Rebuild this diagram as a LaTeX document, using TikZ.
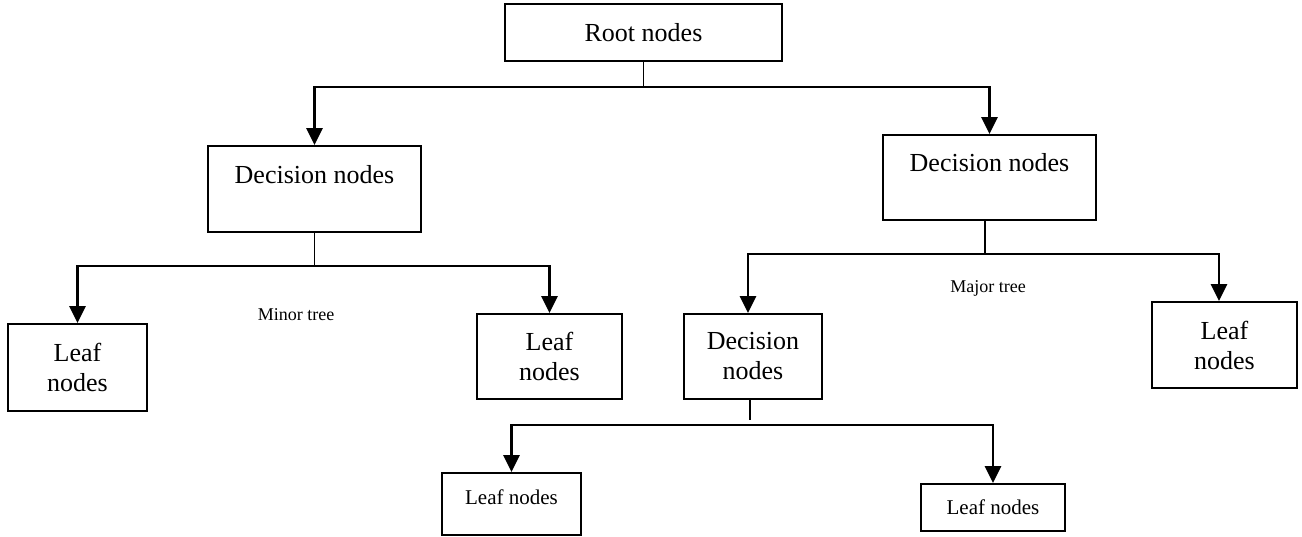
\documentclass[tikz,border=0pt]{standalone}
\usepackage{fontspec}
\setmainfont{Liberation Serif}
\usetikzlibrary{arrows.meta}
\begin{document}
\begin{tikzpicture}[x=1pt,y=-1pt,
  box/.style={draw, line width=1.8pt, rectangle, inner sep=0pt, align=center, font=\fontsize{26}{30}\selectfont},
  smallbox/.style={box, font=\fontsize{21}{24}\selectfont},
  conn/.style={line width=2.6pt, -{Triangle[length=17pt,width=16pt]}},
  stem/.style={line width=1.7pt},
  tag/.style={inner sep=0pt, font=\fontsize{18}{21}\selectfont}]
\useasboundingbox (0,0) rectangle (1302,536);

% nodes
\node[box, minimum width=277pt, minimum height=57pt] (root) at (643.5,32.5) {Root nodes};
\node[box, minimum width=213pt, minimum height=86pt] (d1) at (314.5,189) {Decision nodes\\\mbox{}};
\node[box, minimum width=213pt, minimum height=85pt] (d2) at (989.5,177.5) {Decision nodes\\\mbox{}};
\node[box, minimum width=139pt, minimum height=87pt] (l1) at (77.5,367.5) {Leaf\\nodes};
\node[box, minimum width=145pt, minimum height=85pt] (l2) at (549.5,356.5) {Leaf\\nodes};
\node[box, minimum width=138pt, minimum height=85pt] (d3) at (753,356.5) {Decision\\nodes};
\node[box, minimum width=145pt, minimum height=86pt] (l5) at (1224.5,345) {Leaf\\nodes};
\node[smallbox, text height=10pt, text depth=10pt, minimum width=139pt, minimum height=62pt] (l3) at (511.5,504) {Leaf nodes};
\node[smallbox, minimum width=144pt, minimum height=47pt] (l4) at (993,507.5) {Leaf nodes};

\node[tag] (minor) at (296,315) {Minor tree};
\node[tag] (major) at (988,288) {Major tree};

% junctions
\coordinate (j0) at (643.5,87);
\coordinate (j1) at (314.5,266);
\coordinate (j2) at (985,254);
\coordinate (j3) at (750,425);

% stems
\draw[stem] (root.south) -- (j0);
\draw[stem] (d1.south) -- (j1);
\draw[stem] ([xshift=-4.5pt]d2.south) -- (j2);
\draw[stem] ([xshift=-3pt]d3.south) -- ([yshift=5pt]j3);

% arrows
\draw[conn] (j0) -| (d1.north);
\draw[conn] (j0) -| (d2.north);
\draw[conn] (j1) -| (l1.north);
\draw[conn] (j1) -| (l2.north);
\draw[conn] (j2) -| ([xshift=-5pt]d3.north);
\draw[conn] (j2) -| ([xshift=-5.5pt]l5.north);
\draw[conn] (j3) -| (l3.north);
\draw[conn] (j3) -| (l4.north);
\end{tikzpicture}
\end{document}
